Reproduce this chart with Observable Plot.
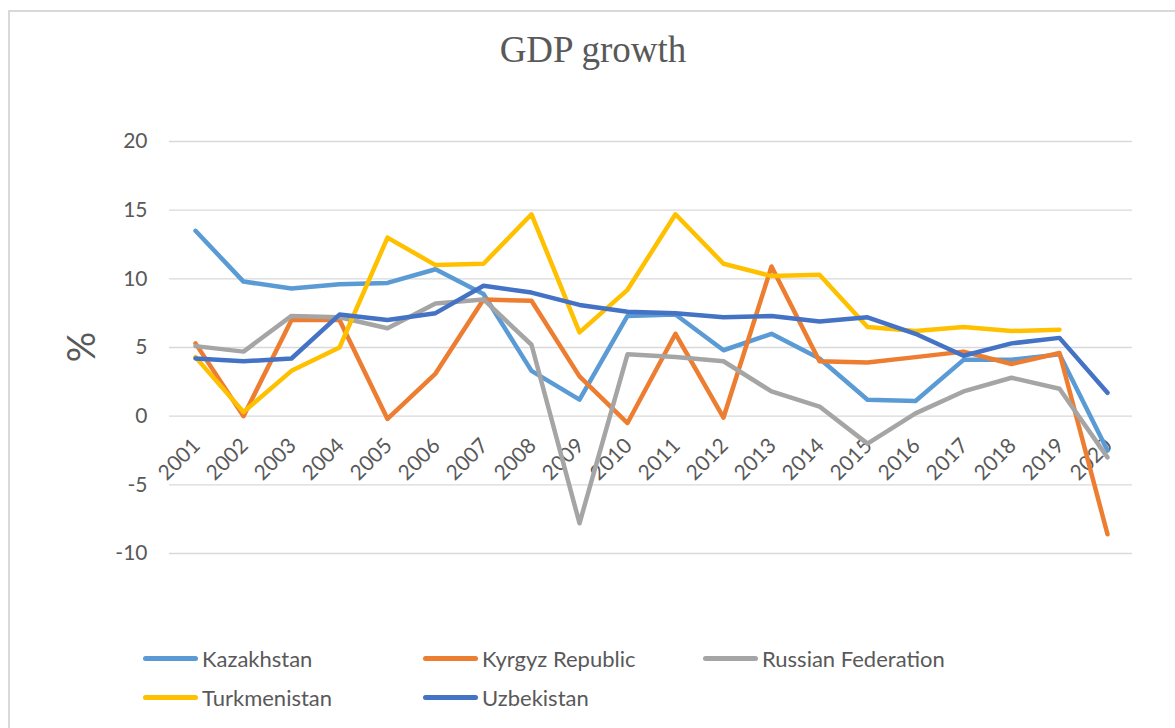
<!DOCTYPE html>
<html>
<head>
<meta charset="utf-8">
<script src="https://cdn.jsdelivr.net/npm/d3@7"></script>
<script src="https://cdn.jsdelivr.net/npm/@observablehq/plot@0.6"></script>
<style>
  html, body { margin: 0; padding: 0; background: #fff; }
  #wrap { position: relative; width: 1175px; height: 728px; overflow: hidden; font-family: Lato, "Open Sans", sans-serif; }
  #frame { position: absolute; left: 8px; top: 10px; width: 1200px; height: 760px; border: 2px solid #D9D9D9; box-sizing: border-box; }
  #chart { position: absolute; left: 0; top: 0; }
  #title { position: absolute; left: 0; width: 1186px; top: 31px; text-align: center; font-family: "Liberation Serif", "DejaVu Serif", serif; font-size: 37px; line-height: 1; color: #595959; }
  #ylabel { position: absolute; left: 80px; top: 347px; transform: translate(-50%, -50%) rotate(-90deg); font-size: 38px; line-height: 1; color: #595959; }
  .leg { position: absolute; display: flex; align-items: center; font-size: 22px; color: #595959; white-space: nowrap; }
  .sw { display: inline-block; width: 55px; height: 5px; border-radius: 3px; margin-right: 4px; }
</style>
</head>
<body>
<div id="wrap">
  <div id="frame"></div>
  <div id="chart"></div>
  <div id="title">GDP growth</div>
  <div id="ylabel">%</div>
  <div id="legend"></div>
</div>
<script>
const years = [2001,2002,2003,2004,2005,2006,2007,2008,2009,2010,2011,2012,2013,2014,2015,2016,2017,2018,2019,2020];
const kazakhstan   = [13.5, 9.8, 9.3, 9.6, 9.7, 10.7, 8.9, 3.3, 1.2, 7.3, 7.4, 4.8, 6.0, 4.2, 1.2, 1.1, 4.1, 4.1, 4.5, -2.5];
const kyrgyz       = [5.3, 0.0, 7.0, 7.0, -0.2, 3.1, 8.5, 8.4, 2.9, -0.5, 6.0, -0.1, 10.9, 4.0, 3.9, 4.3, 4.7, 3.8, 4.6, -8.6];
const russia       = [5.1, 4.7, 7.3, 7.2, 6.4, 8.2, 8.5, 5.2, -7.8, 4.5, 4.3, 4.0, 1.8, 0.7, -2.0, 0.2, 1.8, 2.8, 2.0, -3.0];
const turkmenistan = [4.3, 0.3, 3.3, 5.0, 13.0, 11.0, 11.1, 14.7, 6.1, 9.2, 14.7, 11.1, 10.2, 10.3, 6.5, 6.2, 6.5, 6.2, 6.3, null];
const uzbekistan   = [4.2, 4.0, 4.2, 7.4, 7.0, 7.5, 9.5, 9.0, 8.1, 7.6, 7.5, 7.2, 7.3, 6.9, 7.2, 6.0, 4.4, 5.3, 5.7, 1.7];
const seriesNames  = ["Kazakhstan", "Kyrgyz Republic", "Russian Federation", "Turkmenistan", "Uzbekistan"];
const seriesColors = ["#5B9BD5", "#ED7D31", "#A5A5A5", "#FFC000", "#4472C4"];
const yTicks = [-10, -5, 0, 5, 10, 15, 20];

const seriesValues = [kazakhstan, kyrgyz, russia, turkmenistan, uzbekistan];
const rows = [];
seriesNames.forEach((name, i) => {
  years.forEach((yr, j) => {
    const v = seriesValues[i][j];
    if (v !== null && v !== undefined) rows.push({series: name, year: String(yr), value: v});
  });
});

const textColor = "#595959";
const plot = Plot.plot({
  width: 1175,
  height: 728,
  marginLeft: 169,
  marginRight: 43,
  marginTop: 141,
  marginBottom: 175,
  style: {fontFamily: "Lato, 'Open Sans', sans-serif", background: "transparent", color: textColor},
  x: {type: "point", domain: years.map(String), padding: 0.5, axis: null},
  y: {domain: [-10, 20], ticks: yTicks, label: null},
  color: {domain: seriesNames, range: seriesColors},
  marks: [
    Plot.ruleY(yTicks, {stroke: "#D9D9D9", strokeWidth: 1.4}),
    Plot.axisY({ticks: yTicks, tickSize: 0, tickPadding: 22, fontSize: 21, fill: textColor, label: null, tickFormat: d => String(d)}),
    Plot.text(years.map(String), {x: d => d, y: () => 0, text: d => d, rotate: -45, textAnchor: "end", lineAnchor: "middle", dx: 1, dy: 26, fontSize: 21, fill: textColor}),
    Plot.line(rows, {x: "year", y: "value", z: "series", stroke: "series", strokeWidth: 4.5, strokeLinejoin: "round", strokeLinecap: "round"})
  ]
});
document.getElementById("chart").appendChild(plot);

const legend = document.getElementById("legend");
const legLeft = [143, 423, 703];
const legTop = [658, 697];
seriesNames.forEach((name, i) => {
  const d = document.createElement("div");
  d.className = "leg";
  d.style.left = legLeft[i % 3] + "px";
  d.style.top = (legTop[Math.floor(i / 3)] - 14) + "px";
  d.style.height = "28px";
  const sw = document.createElement("span");
  sw.className = "sw";
  sw.style.background = seriesColors[i];
  d.appendChild(sw);
  d.appendChild(document.createTextNode(name));
  legend.appendChild(d);
});
</script>
</body>
</html>
